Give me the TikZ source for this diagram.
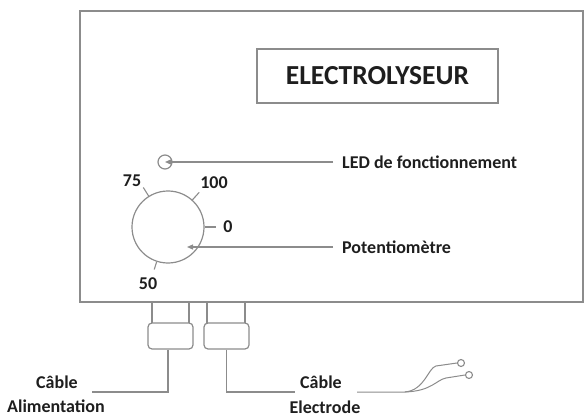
\documentclass[tikz,border=0pt]{standalone}
\usepackage{fontspec}
\setmainfont{Carlito}
\usetikzlibrary{arrows.meta}
\definecolor{ln}{HTML}{8C8C8C}
\definecolor{tx}{HTML}{1E1E1E}
\begin{document}
\begin{tikzpicture}[x=1pt,y=-1pt,
  every node/.style={inner sep=0pt,text=tx,font=\bfseries\fontsize{18}{20}\selectfont},
  frame/.style={draw=ln,line width=1.4pt},
  wire/.style={draw=ln,line width=1.2pt},
  pointer/.style={draw=ln,line width=1.2pt,-{Triangle[length=6pt,width=5pt]},shorten >=0pt},
  lbl/.style={anchor=west},
  tick/.style={draw=ln,line width=1.1pt}]
\useasboundingbox (0,0) rectangle (584,417);
% main box
\draw[frame] (80,11) rectangle (583,302);
% title
\node[draw=ln,line width=1.4pt,minimum width=241pt,minimum height=54pt,font=\bfseries\fontsize{27.5}{30}\selectfont] (title) at (377.5,76) {ELECTROLYSEUR};
% LED
\node[draw=ln,line width=1.2pt,circle,minimum size=14pt] (led) at (165,162) {};
\coordinate (ledend) at (333,162);
\node[lbl] (ledtxt) at (342,162) {LED de fonctionnement};
\draw[pointer] (ledend) -- (led.center);
% dial
\node[draw=ln,line width=1.2pt,circle,minimum size=72pt] (dial) at (168,227) {};
\draw[tick] (dial.0) -- ++(11,0) coordinate (t0);
\node (l0) at (228,227) {0};
\draw[tick] (dial.48) -- ++(-48:10);
\node (l100) at (214,183) {100};
\draw[tick] (dial.122) -- ++(-122:10);
\node (l75) at (132,181) {75};
\draw[tick] (dial.252) -- ++(-252:8);
\node (l50) at (148,284) {50};
\coordinate (potend) at (333,247);
\coordinate (pottip) at (187,247);
\node[lbl] (pottxt) at (342,247) {Potentiomètre};
\draw[pointer] (potend) -- (pottip);
% glands
\draw[wire] (152,302) -- (152,323) (189,302) -- (189,323);
\draw[wire] (207,302) -- (207,323) (245,302) -- (245,323);
\node[draw=ln,line width=1.2pt,rounded corners=4pt,minimum width=45pt,minimum height=26pt] (g1) at (170.5,336) {};
\node[draw=ln,line width=1.2pt,rounded corners=4pt,minimum width=45pt,minimum height=26pt] (g2) at (226.5,336) {};
% cables
\coordinate (c1) at (92,392);
\draw[wire] (g1.south -| 168,0) -- (168,392) -- (c1);
\coordinate (c2) at (295,392);
\draw[wire] (g2.south) -- (226.5,392) -- (c2);
\node (cab1) at (57,382) {Câble};
\node (alim) at (56,406) {Alimentation};
\node (cab2) at (321,382) {Câble};
\node (elec) at (325,407) {Electrode};
% electrode wire
\coordinate (w0) at (357,392);
\node[draw=ln,line width=1.1pt,circle,minimum size=7pt] (e1) at (461,363) {};
\node[draw=ln,line width=1.1pt,circle,minimum size=7pt] (e2) at (469,375) {};
\draw[wire,line width=1pt] (w0) -- (405,392) .. controls (425,390) and (428,368) .. (436,366) -- (e1.west);
\draw[wire,line width=1pt] (405,392) .. controls (432,391) and (436,380) .. (446,378) -- (e2.west);
\end{tikzpicture}
\end{document}
